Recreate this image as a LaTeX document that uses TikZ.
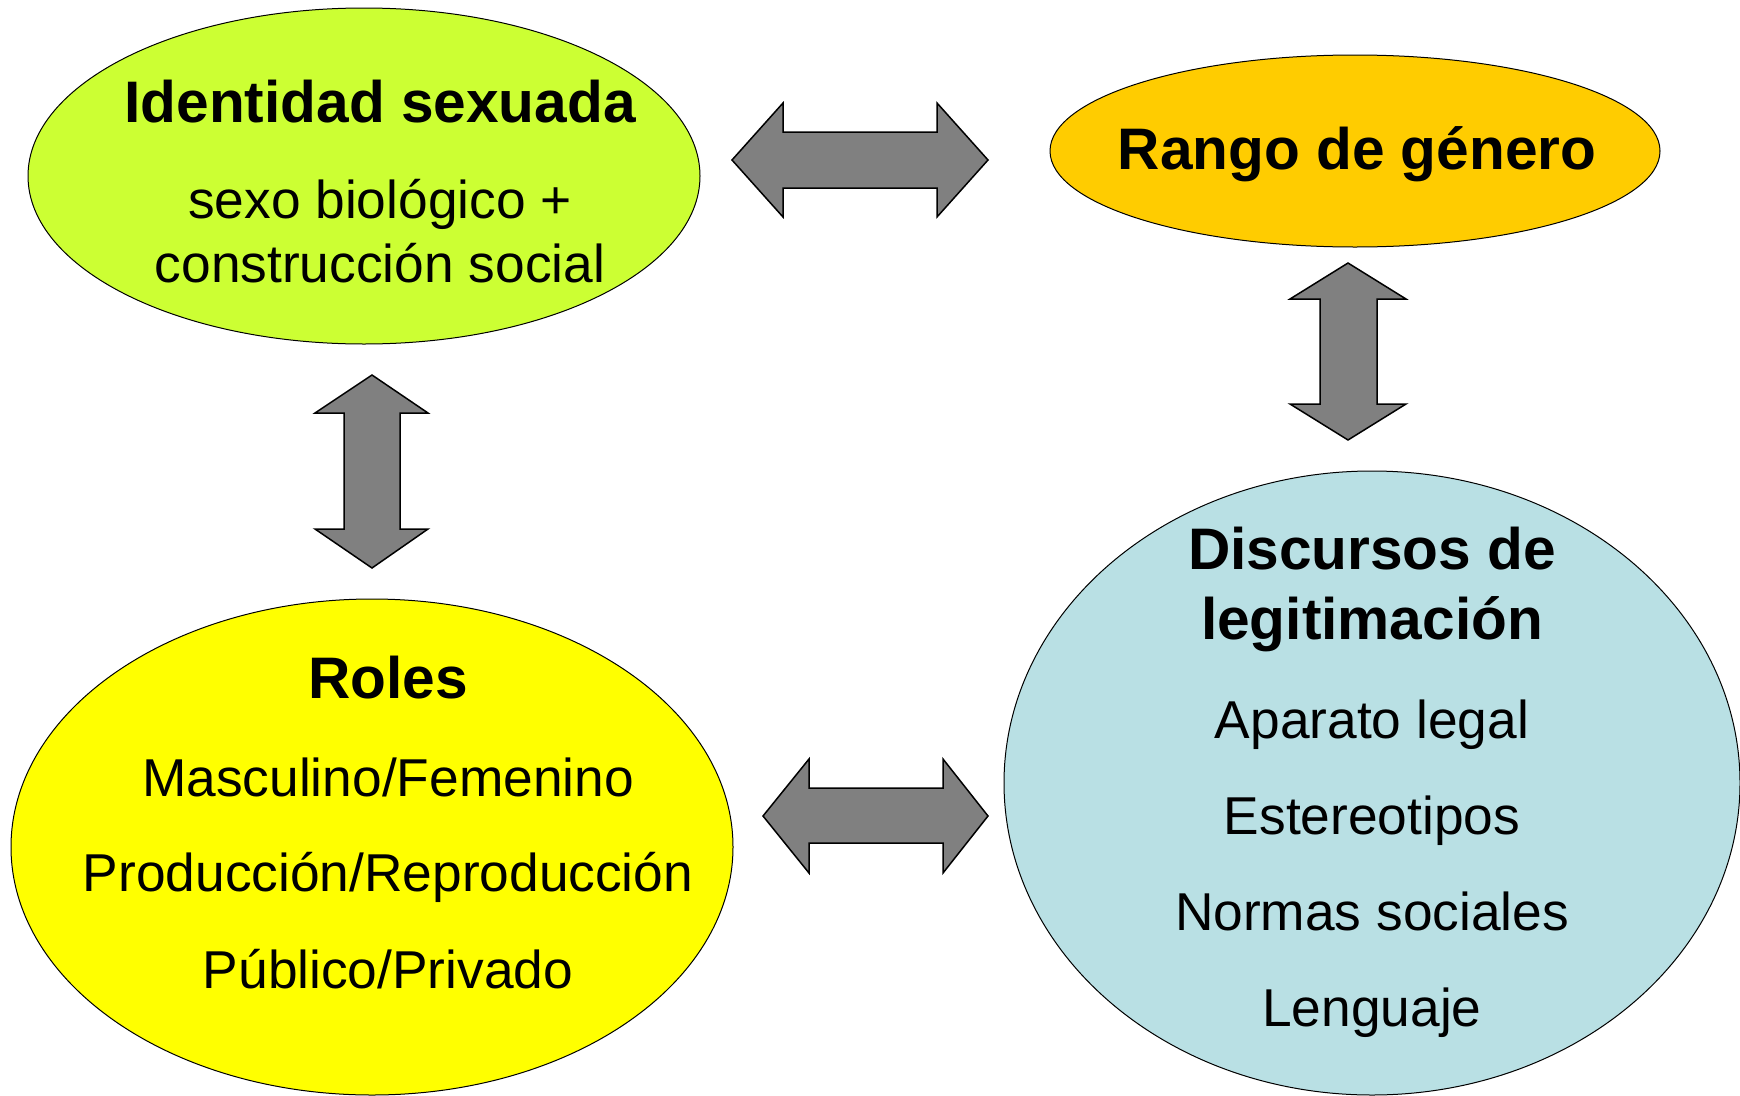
\documentclass[tikz,border=0pt]{standalone}
\usepackage{fontspec}
\setmainfont{Liberation Sans}
\usetikzlibrary{shapes.geometric}
\definecolor{identgreen}{HTML}{CCFF33}
\definecolor{rangoorange}{HTML}{FFCC00}
\definecolor{rolesyellow}{HTML}{FFFF00}
\definecolor{discblue}{HTML}{B9E0E4}
\definecolor{arrowgray}{HTML}{808080}

\begin{document}
\begin{tikzpicture}[x=1pt, y=-1pt,
  blob/.style={ellipse, draw, line width=1pt, inner sep=0pt},
  flecha/.style={draw, line width=1.5pt, fill=arrowgray, line join=miter},
  titulo/.style={anchor=base, font=\fontsize{58.6}{60}\selectfont\bfseries},
  texto/.style={anchor=base, font=\fontsize{53.3}{56}\selectfont}]
\useasboundingbox (0,0) rectangle (1740,1095);

% ellipses
\node[blob, fill=identgreen, minimum width=672pt, minimum height=336pt] (ident) at (364,176) {};
\node[blob, fill=rangoorange, minimum width=610pt, minimum height=192pt] (rango) at (1355,151) {};
\node[blob, fill=rolesyellow, minimum width=722pt, minimum height=496pt] (roles) at (372,847) {};
\node[blob, fill=discblue, minimum width=736pt, minimum height=624pt] (disc) at (1372,783) {};

% texts
\node[titulo] (identt) at (380,122) {Identidad sexuada};
\node[texto] (ident1) at (380,218) {sexo biológico +};
\node[texto] (ident2) at (380,282) {construcción social};

\node[titulo] (rangot) at (1357,169) {Rango de género};

\node[titulo] (rolest) at (388,698) {Roles};
\node[texto] (roles1) at (388,796) {Masculino/Femenino};
\node[texto] (roles2) at (388,891) {Producción/Reproducción};
\node[texto] (roles3) at (388,988) {Público/Privado};

\node[titulo] (disct1) at (1372,569) {Discursos de};
\node[titulo] (disct2) at (1372,639) {legitimación};
\node[texto] (disc1) at (1372,738) {Aparato legal};
\node[texto] (disc2) at (1372,834) {Estereotipos};
\node[texto] (disc3) at (1372,930) {Normas sociales};
\node[texto] (disc4) at (1372,1026) {Lenguaje};

% block arrows
\draw[flecha] (732,160) -- (783,103) -- (783,132) -- (937,132) -- (937,103) -- (988,160)
  -- (937,217) -- (937,188) -- (783,188) -- (783,217) -- cycle;
\draw[flecha] (763,816) -- (809,759) -- (809,788) -- (943,788) -- (943,759) -- (988,816)
  -- (943,873) -- (943,843) -- (809,843) -- (809,873) -- cycle;
\draw[flecha] (372,375) -- (428,413) -- (400,413) -- (400,529) -- (428,529) -- (372,568)
  -- (315,529) -- (344,529) -- (344,413) -- (315,413) -- cycle;
\draw[flecha] (1348,263) -- (1406,299) -- (1377,299) -- (1377,404) -- (1406,404) -- (1348,440)
  -- (1290,404) -- (1320,404) -- (1320,299) -- (1290,299) -- cycle;
\end{tikzpicture}
\end{document}
